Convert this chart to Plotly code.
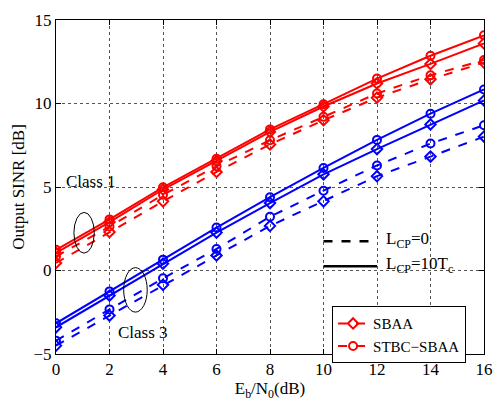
import plotly.graph_objects as go

x = [0, 2, 4, 6, 8, 10, 12, 14, 16]

# Class 1 (red)
c1_stbc_10tc = [1.24, 3.06, 4.98, 6.69, 8.45, 9.96, 11.49, 12.86, 14.08]
c1_sbaa_10tc = [1.05, 2.9, 4.85, 6.55, 8.3, 9.82, 11.2, 12.37, 13.6]
c1_stbc_0 = [0.84, 2.63, 4.53, 6.24, 7.8, 9.2, 10.6, 11.69, 12.6]
c1_sbaa_0 = [0.45, 2.3, 4.14, 5.9, 7.55, 9.0, 10.35, 11.45, 12.45]

# Class 3 (blue)
c3_stbc_10tc = [-3.16, -1.25, 0.65, 2.57, 4.39, 6.14, 7.82, 9.39, 10.84]
c3_sbaa_10tc = [-3.4, -1.5, 0.41, 2.27, 4.04, 5.76, 7.27, 8.75, 10.18]
c3_stbc_0 = [-4.2, -2.33, -0.47, 1.29, 3.22, 4.78, 6.29, 7.6, 8.7]
c3_sbaa_0 = [-4.5, -2.7, -0.86, 0.9, 2.67, 4.14, 5.65, 6.82, 8.02]

xticks = [0, 2, 4, 6, 8, 10, 12, 14, 16]
yticks = [-5, 0, 5, 10, 15]

FONT = "Liberation Serif"
FS = 17
RED = "#ff0000"
BLUE = "#0000ff"

fig = go.Figure()

def add(y, color, dash, symbol, name=None, show=False):
    fig.add_trace(go.Scatter(
        x=x, y=y, mode="lines+markers",
        line=dict(color=color, width=2, dash=dash),
        marker=dict(symbol=symbol, size=8, color=color, line=dict(color=color, width=2)),
        name=name, showlegend=show))

add(c1_stbc_10tc, RED, "solid", "circle-open")
add(c1_sbaa_10tc, RED, "solid", "diamond-open")
add(c3_stbc_10tc, BLUE, "solid", "circle-open")
add(c3_sbaa_10tc, BLUE, "solid", "diamond-open")
add(c1_sbaa_0, RED, "dash", "diamond-open", "SBAA", True)
add(c1_stbc_0, RED, "dash", "circle-open", "STBC\u2212SBAA", True)
add(c3_stbc_0, BLUE, "dash", "circle-open")
add(c3_sbaa_0, BLUE, "dash", "diamond-open")

# L_CP style key lines
fig.add_trace(go.Scatter(x=[10, 12], y=[1.75, 1.75], mode="lines",
                         line=dict(color="black", width=2.5, dash="dash"), showlegend=False))
fig.add_trace(go.Scatter(x=[10, 12], y=[0.25, 0.25], mode="lines",
                         line=dict(color="black", width=2.5), showlegend=False))

annotations = [
    dict(x=12.25, y=1.85, text="L<sub>CP</sub>=0", xanchor="left", yanchor="middle"),
    dict(x=12.25, y=0.35, text="L<sub>CP</sub>=10T<sub>c</sub>", xanchor="left", yanchor="middle"),
    dict(x=0.3, y=5.35, text="Class 1", xanchor="left", yanchor="middle"),
    dict(x=2.25, y=-3.7, text="Class 3", xanchor="left", yanchor="middle"),
]
for a in annotations:
    a.update(showarrow=False, xref="x", yref="y", font=dict(family=FONT, size=FS, color="black"))

shapes = [
    dict(type="circle", xref="x", yref="y", x0=1.05 - 0.38, x1=1.05 + 0.38,
         y0=2.26 - 1.22, y1=2.26 + 1.22, line=dict(color="black", width=1)),
    dict(type="circle", xref="x", yref="y", x0=2.97 - 0.44, x1=2.97 + 0.44,
         y0=-1.16 - 1.33, y1=-1.16 + 1.33, line=dict(color="black", width=1)),
]

axis_common = dict(
    showline=True, linecolor="black", linewidth=1, mirror="ticks",
    ticks="inside", ticklen=5, tickcolor="black",
    showgrid=True, gridcolor="#555555", griddash="dot", gridwidth=1,
    zeroline=False, tickfont=dict(family=FONT, size=FS, color="black"),
)

fig.update_layout(
    width=504, height=404,
    margin=dict(l=56, r=11, t=17, b=47),
    plot_bgcolor="white", paper_bgcolor="white",
    font=dict(family=FONT, size=FS, color="black"),
    xaxis=dict(range=[0, 16], tickvals=xticks,
               title=dict(text="E<sub>b</sub>/N<sub>0</sub>(dB)", standoff=2,
                          font=dict(family=FONT, size=FS)),
               **axis_common),
    yaxis=dict(range=[-5, 15], tickvals=yticks,
               title=dict(text="Output SINR [dB]", standoff=4,
                          font=dict(family=FONT, size=FS)),
               **axis_common),
    legend=dict(x=0.645, y=0.143, xanchor="left", yanchor="top",
                bgcolor="white", bordercolor="black", borderwidth=1,
                font=dict(family=FONT, size=15), tracegroupgap=0,
                itemwidth=30),
    annotations=annotations,
    shapes=shapes,
)

fig.write_html("out.html")
